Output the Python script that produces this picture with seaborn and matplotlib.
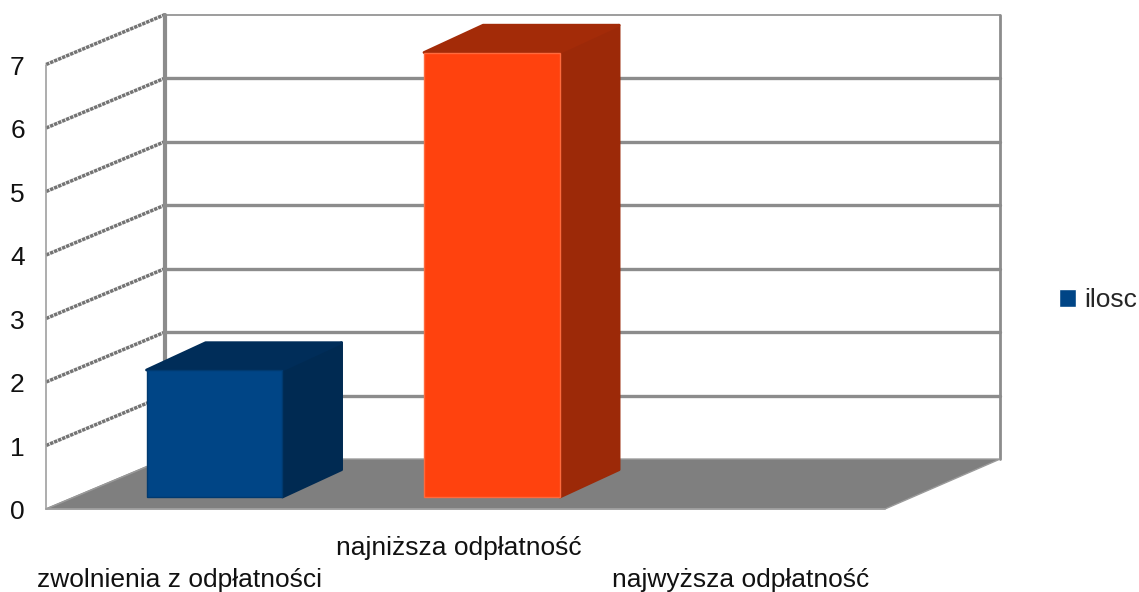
import matplotlib
matplotlib.use("Agg")
import matplotlib.pyplot as plt
from matplotlib.patches import Patch, Polygon
import seaborn as sns

# dane
categories = ["zwolnienia z odpłatności", "najniższa odpłatność", "najwyższa odpłatność"]
values = [2, 7, 0]
y_ticks = [0, 1, 2, 3, 4, 5, 6, 7]
series_name = "ilosc"

bar_colors = ["#004586", "#ff420e", "#579d1c"]
edge_colors = ["#003a70", "#ff6a3c", "#579d1c"]
side_colors = ["#002a52", "#9c2908", "#35600f"]
top_colors = ["#002d59", "#a32b08", "#35600f"]

sns.set_style("white")
plt.rcParams["font.family"] = ["Liberation Sans", "DejaVu Sans"]

fig = plt.figure(figsize=(11.39, 5.92), dpi=100)
ax = fig.add_axes([0, 0, 1, 1])

sns.barplot(x=categories, y=values, hue=categories, palette=bar_colors, width=0.49,
            legend=False, saturation=1, ax=ax, zorder=3)

# kolor obwodki osobno dla kazdego slupka, pusty slupek bez obwodki
for bar, v, c in zip(ax.patches, values, edge_colors):
    bar.set_edgecolor(c)
    bar.set_linewidth(1.0 if v > 0 else 0)

# skala: os x = kategorie, os y = wartosci na plaszczyznie slupkow
ppx = 277.5
ppy = 63.5
ax.set_xlim(-214.5 / ppx, (1139 - 214.5) / ppx)
ax.set_ylim(-(592 - 497) / ppy, 497 / ppy)
ax.axis("off")

# pseudo 3D - przesuniecia wzgledem plaszczyzny slupkow
front_y = -0.189
back_y = 0.598
front_l, front_r = -0.607, 2.416
back_l, back_r = -0.178, 2.831
top = max(y_ticks)

# podloga
ax.add_patch(Polygon([(front_l, front_y), (front_r, front_y), (back_r, back_y), (back_l, back_y)],
                     closed=True, facecolor="#7f7f7f", edgecolor="#9a9a9a", linewidth=1, zorder=1))

# siatka
grid = "#8c8c8c"
for t in y_ticks[1:]:
    lw = 1.2 if t == top else 2.4
    ax.plot([back_l, back_r], [back_y + t, back_y + t], color=grid, lw=lw, zorder=0.5)
    ax.plot([front_l, back_l], [front_y + t, back_y + t], color="#747474", lw=2.5, ls=(0, (1.0, 0.25)), zorder=0.5)
ax.plot([front_l, back_l], [front_y, back_y], color="#8a8a8a", lw=1.2, zorder=0.5)
ax.plot([back_l, back_l], [back_y, back_y + top], color=grid, lw=3, zorder=0.6)
ax.plot([back_r, back_r], [back_y, back_y + top], color=grid, lw=2, zorder=0.6)
ax.plot([front_l, front_l], [front_y, front_y + top], color="#a0a0a0", lw=1.2, zorder=0.6)
ax.plot([front_l, front_r], [front_y, front_y], color="#a0a0a0", lw=1.2, zorder=1.1)

# boki i gora slupkow
dx = 0.213
dy = 0.43
half = 0.49 / 2
for i, v in enumerate(values):
    if v == 0:
        continue
    l, r = i - half, i + half
    ax.add_patch(Polygon([(r, 0), (r + dx, dy), (r + dx, v + dy), (r, v)], closed=True,
                         facecolor=side_colors[i], edgecolor=side_colors[i], lw=2, joinstyle="round", zorder=2))
    ax.add_patch(Polygon([(l, v), (l + dx, v + dy), (r + dx, v + dy), (r, v)], closed=True,
                         facecolor=top_colors[i], edgecolor=top_colors[i], lw=2, joinstyle="round", zorder=2))

# opisy osi
for t in y_ticks:
    ax.text(-0.710, front_y + t - 0.05, str(t), fontsize=19, ha="center", va="center", color="#111111")

label_x = [-0.125, 0.88, 1.895]
label_y = [-1.307, -0.803, -1.307]
for name, lx, ly in zip(categories, label_x, label_y):
    ax.text(lx, ly, name, fontsize=19, ha="center", va="center", color="#111111")

ax.legend(handles=[Patch(facecolor=bar_colors[0], label=series_name)], loc="center left",
          bbox_to_anchor=(1059 / 1139, 1 - 300 / 592), frameon=False, fontsize=19,
          handlelength=0.65, handleheight=0.65, handletextpad=0.3, borderpad=0, borderaxespad=0)

fig.savefig("out.png", dpi=100)
